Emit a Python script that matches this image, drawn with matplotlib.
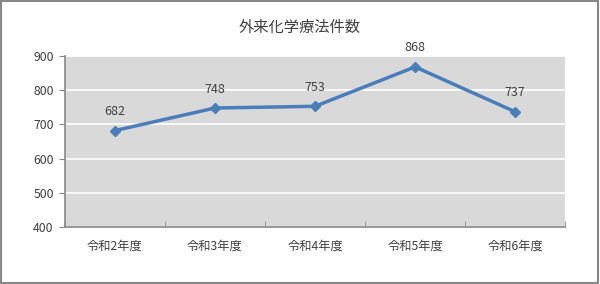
import numpy as np
import matplotlib.pyplot as plt
from matplotlib.patches import Rectangle

plt.rcParams['font.family'] = ['Noto Sans CJK JP', 'DejaVu Sans']

## DATA
years = ['令和2年度', '令和3年度', '令和4年度', '令和5年度', '令和6年度']
counts = [682, 748, 753, 868, 737]
title = '外来化学療法件数'

## PLOT
fig = plt.figure(figsize=(6, 2.84), dpi=100)
ax = fig.add_axes([0.108, 0.2, 0.834, 0.603])
x = np.arange(len(years))
ax.set_facecolor('#d9d9d9')
ax.plot(x, counts, color='#4a7ebb', lw=2.5, marker='D', ms=5.5, zorder=3)
for xi, c in zip(x, counts):
    ax.annotate(str(c), (xi, c), xytext=(0, 9), textcoords='offset points',
                ha='center', va='bottom', fontsize=9, color='#404040')

ax.set_xlim(-0.5, len(years) - 0.5)
ax.set_ylim(400, 900)
ax.set_yticks(np.arange(400, 901, 100))
ax.set_xticks(x)
ax.set_xticklabels(years)
ax.set_xticks(np.arange(-0.5, len(years)), minor=True)
ax.tick_params(axis='x', which='major', length=0, pad=9, labelsize=8.8, labelcolor='#404040')
ax.tick_params(axis='x', which='minor', length=4, color='#888888', direction='in')
ax.tick_params(axis='y', length=4, color='#888888', labelsize=8.8, labelcolor='#404040', pad=4)
ax.grid(axis='y', color='white', lw=1.2)
ax.set_axisbelow(True)
for s in ['top', 'right']:
    ax.spines[s].set_visible(False)
for s in ['left', 'bottom']:
    ax.spines[s].set_color('#888888')
    ax.spines[s].set_linewidth(1.2)

fig.text(0.5, 0.905, title, ha='center', va='center', fontsize=11, color='#404040')
fig.patches.append(Rectangle((0.002, 0.004), 0.995, 0.992, transform=fig.transFigure,
                             fill=False, edgecolor='#888888', lw=1.5))
fig.savefig('out.png', dpi=100)
